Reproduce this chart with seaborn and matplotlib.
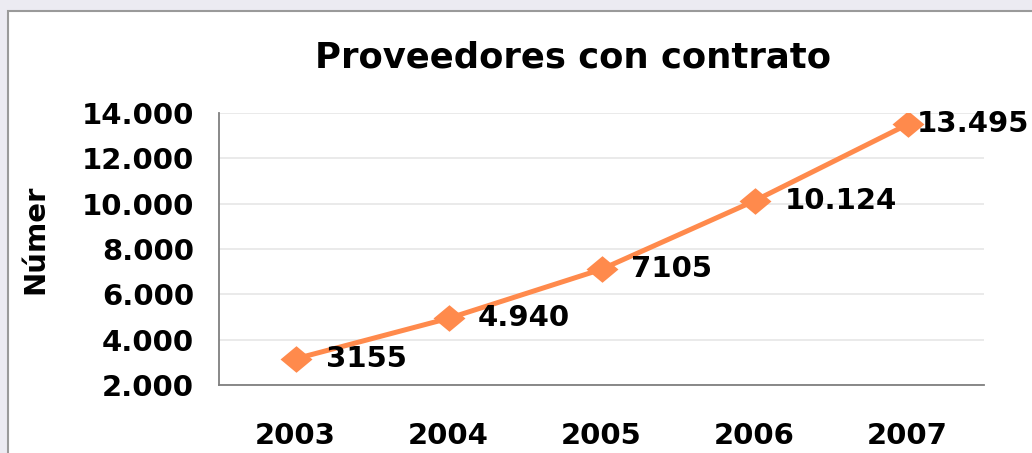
import matplotlib
matplotlib.use("Agg")
import matplotlib.pyplot as plt
from matplotlib.patches import Rectangle
from matplotlib.ticker import FixedLocator, FuncFormatter
import seaborn as sns
import pandas as pd

# Providers with a signed contract per year
years = [2003, 2004, 2005, 2006, 2007]
proveedores = [3155, 4940, 7105, 10124, 13495]
etiquetas = ["3155", "4.940", "7105", "10.124", "13.495"]
y_ticks = [2000, 4000, 6000, 8000, 10000, 12000, 14000]

sns.set_style("white")
plt.rcParams["font.family"] = ["DejaVu Sans"]
plt.rcParams["font.weight"] = "bold"
for key in ["text.color", "axes.labelcolor", "xtick.labelcolor", "ytick.labelcolor"]:
    plt.rcParams[key] = "black"

df = pd.DataFrame({"Año": years, "Proveedores": proveedores})

fig = plt.figure(figsize=(10.32, 4.53), dpi=100)
fig.patch.set_facecolor("#ECEBF2")

# White chart panel with thin grey frame, kept behind the axes
panel = Rectangle((8 / 1032, -0.05), 1.2, 1 - 11 / 453 + 0.05,
                  transform=fig.transFigure, facecolor="white",
                  edgecolor="#9A9A9A", linewidth=1.5, zorder=-10)
fig.patches.append(panel)

ax = fig.add_axes([219 / 1032, 1 - 385 / 453, (984 - 219) / 1032, (385 - 113) / 453])
ax.set_facecolor("white")

orange = "#FF8A4C"
diamond = [(-1.2, 0), (0, 1), (1.2, 0), (0, -1), (-1.2, 0)]
sns.lineplot(data=df, x="Año", y="Proveedores", ax=ax, color=orange,
             linewidth=3.6, marker=diamond, markersize=23,
             markeredgewidth=0, markerfacecolor=orange, zorder=3)

# Value labels to the right of each point; the last one sits tighter to fit
offsets = [22, 21, 21, 22, 7]
for x, y, t, dx in zip(years, proveedores, etiquetas, offsets):
    ax.annotate(t, (x, y), xytext=(dx, 0), textcoords="offset points",
                ha="left", va="center", fontsize=21, fontweight="bold",
                color="black", annotation_clip=False, zorder=4)

ax.set_xlim(years[0] - 0.5, years[-1] + 0.5)
ax.set_ylim(y_ticks[0], y_ticks[-1])

ax.yaxis.set_major_locator(FixedLocator(y_ticks))
ax.yaxis.set_major_formatter(FuncFormatter(lambda v, p: f"{int(v):,}".replace(",", ".")))
ax.set_xticks(years)
ax.set_xticklabels([str(y) for y in years])
ax.xaxis.set_minor_locator(FixedLocator([y - 0.5 for y in years] + [years[-1] + 0.5]))

ax.grid(axis="y", color="#E4E4E4", linewidth=1.1)
ax.grid(axis="x", visible=False)

for side in ["top", "right"]:
    ax.spines[side].set_visible(False)
for side in ["left", "bottom"]:
    ax.spines[side].set_color("#7F7F7F")
    ax.spines[side].set_linewidth(1.3)

ax.tick_params(axis="y", which="major", direction="out", length=7,
               width=1.1, color="#333333", labelsize=21, pad=11)
ax.tick_params(axis="x", which="major", length=0, labelsize=21, pad=27)
ax.tick_params(axis="x", which="minor", direction="out", length=7,
               width=1.1, color="#555555")
for lbl in ax.get_xticklabels() + ax.get_yticklabels():
    lbl.set_fontweight("bold")

ax.set_xlabel("")
ax.set_ylabel("Númer", fontsize=21, fontweight="bold", color="black")
ax.yaxis.set_label_coords(-0.222, 0.535)

fig.text(573 / 1032, 1 - 68 / 453, "Proveedores con contrato",
         ha="center", va="baseline", fontsize=25.5, fontweight="bold",
         color="black")

fig.savefig("out.png", dpi=100, facecolor=fig.get_facecolor())
